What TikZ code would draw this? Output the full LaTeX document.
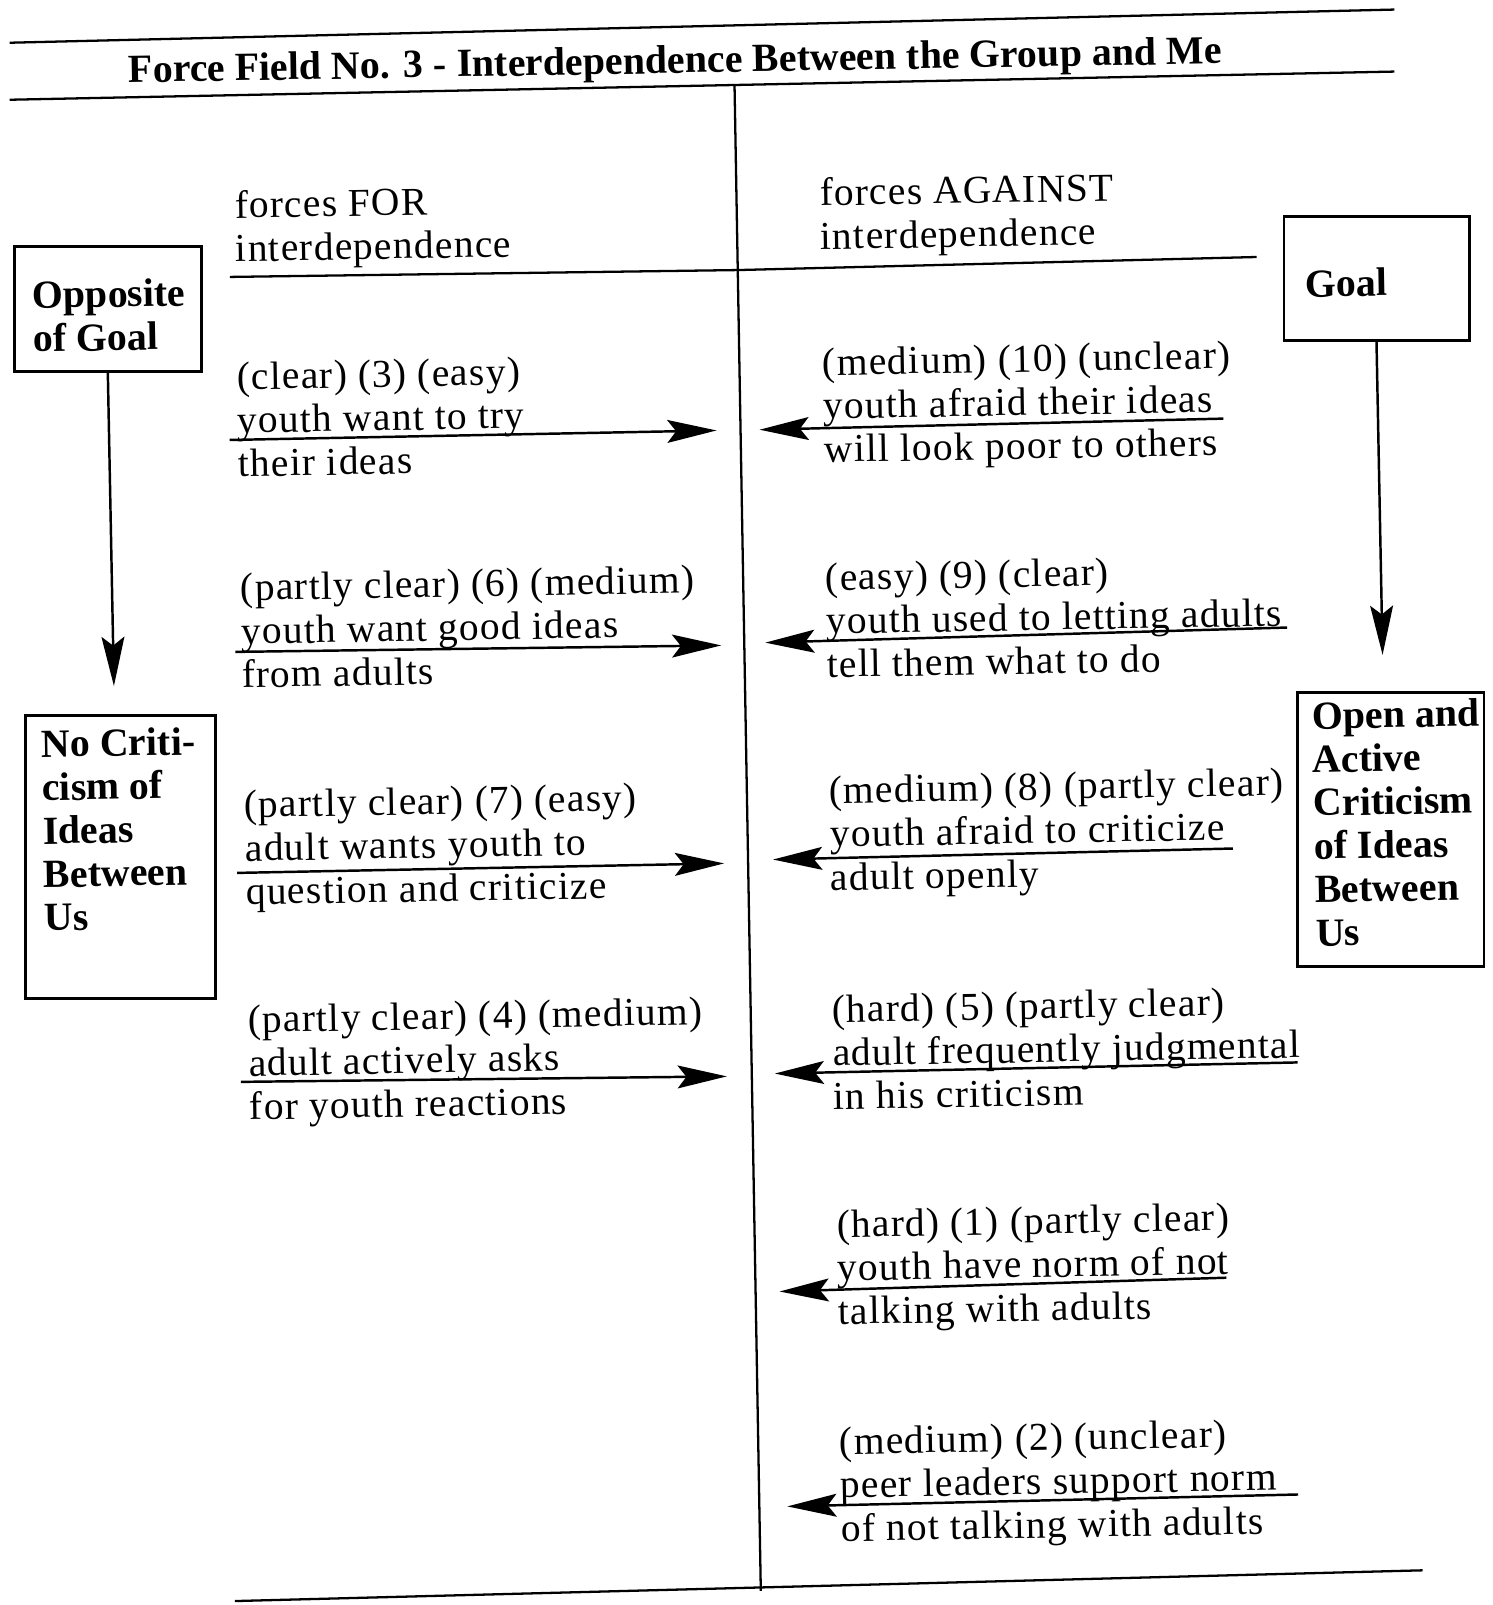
\documentclass[tikz,border=0pt]{standalone}
\usepackage{fontspec}
\setmainfont{Liberation Serif}
\newfontfamily\widefont[LetterSpace=3]{Liberation Serif}
\usetikzlibrary{arrows.meta,fit}

\tikzset{
  label/.style={anchor=north west, inner sep=0pt, align=left,
    font=\widefont\fontsize{22.5}{24.8}\selectfont},
  boxlabel/.style={label, font=\fontsize{22.7}{24.7}\selectfont\bfseries},
  goalbox/.style={draw, line width=1.6pt, inner sep=0pt},
  push/.style={line width=1.4pt, -{Stealth[length=28pt,width=13pt,inset=5pt]}},
  rule/.style={line width=1.3pt}
}

\begin{document}
\begin{tikzpicture}[x=0.02cm,y=-0.02cm]
  \useasboundingbox[fill=white] (0,0) rectangle (1493,1605);
  \begin{scope}[rotate around={1:(746,800)}, transform shape]
     \draw[rule] (23,30) -- (1408,21);
     \draw[rule] (22,87) -- (1407,83);
     \draw[rule] (221,1592) -- (1409,1582);
     \draw[rule] (747,86) -- (747,1591);
     \node[anchor=base, inner sep=0pt, font=\fontsize{22.7}{24.7}\selectfont\bfseries] (title) at (688,72)
        {Force Field No. 3 - Interdependence Between the Group and Me};

     \node[label] (hfor) at (245,181) {forces FOR\\interdependence};
     \node[label] (hagainst) at (830,179) {forces AGAINST\\interdependence};
     \draw[rule] (239,268) -- (747,270) -- (1266,266);

     % end states
     \node[goalbox, fit={(24,234) (209,362)}] (opp) {};
     \node[boxlabel] (opptext) at (41,268) {Opposite\\of Goal};
     \node[goalbox, fit={(1294,226) (1477,353)}] (goal) {};
     \node[boxlabel] (goaltext) at (1314,279) {Goal};
     \node[goalbox, fit={(27,703) (212,989)}] (nocrit) {};
     \node[boxlabel] (nocrittext) at (42,717) {No Criti-\\cism of\\Ideas\\Between\\Us};
     \node[goalbox, fit={(1299,702) (1481,979)}] (openact) {};
     \node[boxlabel] (openacttext) at (1313,711) {Open and\\Active\\Criticism\\of Ideas\\Between\\Us};
     \coordinate (oppend) at (116,675);
     \coordinate (goalend) at (1385,666);
     \draw[push] (opp.south) -- (oppend);
     \draw[push] (goal.south) -- (goalend);

     % forces for
     \node[label] (f3) at (244,353) {(clear) (3) (easy)\\youth want to try\\their ideas};
     \node[label] (f6) at (244,564) {(partly clear) (6) (medium)\\youth want good ideas\\from adults};
     \node[label] (f7) at (244,781) {(partly clear) (7) (easy)\\adult wants youth to\\question and criticize};
     \node[label] (f4) at (244,996) {(partly clear) (4) (medium)\\adult actively asks\\for youth reactions};
     \coordinate (f3a) at (236,431);  \coordinate (f3b) at (723,430);
     \coordinate (f6a) at (238,643);  \coordinate (f6b) at (724,645);
     \coordinate (f7a) at (236,864);  \coordinate (f7b) at (723,863);
     \coordinate (f4a) at (236,1073); \coordinate (f4b) at (722,1076);
     \draw[push] (f3a) -- (f3b);
     \draw[push] (f6a) -- (f6b);
     \draw[push] (f7a) -- (f7b);
     \draw[push] (f4a) -- (f4b);

     % forces against
     \node[label] (a10) at (830,349) {(medium) (10) (unclear)\\youth afraid their ideas\\will look poor to others};
     \node[label] (a9) at (829,564) {(easy) (9) (clear)\\youth used to letting adults\\tell them what to do};
     \node[label] (a8) at (829,777) {(medium) (8) (partly clear)\\youth afraid to criticize\\adult openly};
     \node[label] (a5) at (828,996) {(hard) (5) (partly clear)\\adult frequently judgmental\\in his criticism};
     \node[label] (a1) at (829,1211) {(hard) (1) (partly clear)\\youth have norm of not\\talking with adults};
     \node[label] (a2) at (828,1428) {(medium) (2) (unclear)\\peer leaders support norm\\of not talking with adults};
     \coordinate (a10a) at (1230,427); \coordinate (a10b) at (766,430);
     \coordinate (a9a) at (1290,637);  \coordinate (a9b) at (768,643);
     \coordinate (a8a) at (1232,857);  \coordinate (a8b) at (772,860);
     \coordinate (a5a) at (1293,1072); \coordinate (a5b) at (770,1074);
     \coordinate (a1a) at (1218,1286); \coordinate (a1b) at (771,1292);
     \coordinate (a2a) at (1286,1504); \coordinate (a2b) at (775,1507);
     \draw[push] (a10a) -- (a10b);
     \draw[push] (a9a) -- (a9b);
     \draw[push] (a8a) -- (a8b);
     \draw[push] (a5a) -- (a5b);
     \draw[push] (a1a) -- (a1b);
     \draw[push] (a2a) -- (a2b);
  \end{scope}
\end{tikzpicture}
\end{document}
